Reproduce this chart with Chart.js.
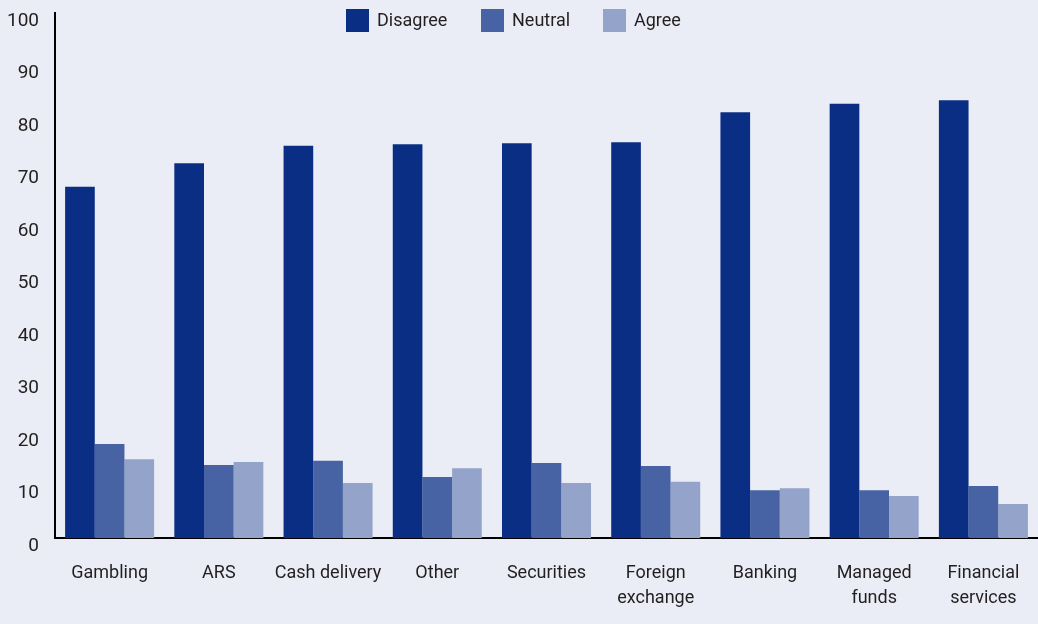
<!DOCTYPE html>
<html>
<head>
<meta charset="utf-8">
<title>Disagree / Neutral / Agree</title>
<script src="https://cdn.jsdelivr.net/npm/chart.js@4.4.0/dist/chart.umd.min.js"></script>
<style>
  body { margin: 0; background: #eaedf5; }
  #cont { width: 1038px; height: 624px; }
</style>
</head>
<body>
<div id="cont">
  <canvas id="barras_sectores" width="1038" height="624"></canvas>
</div>
<script>
var sectores = [
  "Gambling", "ARS", "Cash delivery", "Other", "Securities",
  ["Foreign", "exchange"], "Banking", ["Managed", "funds"], ["Financial", "services"]
];
var disagree = [66.9, 71.4, 74.7, 75.0, 75.2, 75.4, 81.1, 82.7, 83.4];
var neutral = [17.9, 13.9, 14.7, 11.6, 14.3, 13.7, 9.1, 9.1, 9.9];
var agree = [15.0, 14.5, 10.5, 13.3, 10.5, 10.7, 9.5, 8.0, 6.5];
var ticksY = [0, 10, 20, 30, 40, 50, 60, 70, 80, 90, 100];

var fuente = "Roboto, 'Liberation Sans', sans-serif";
var colorTexto = "#231f20";

// legend drawn by hand so it can sit over the top of the plot
var posLeyenda = [346, 481, 603];
var leyenda = {
  id: "leyenda",
  afterDraw: function (chart) {
    var ctx = chart.ctx;
    var y = 9;
    var caja = 23;
    ctx.save();
    ctx.font = "18px " + fuente;
    ctx.textBaseline = "middle";
    ctx.textAlign = "left";
    chart.data.datasets.forEach(function (ds, i) {
      var x = posLeyenda[i];
      ctx.fillStyle = ds.backgroundColor;
      ctx.fillRect(x, y, caja, caja);
      ctx.fillStyle = colorTexto;
      ctx.fillText(ds.label, x + caja + 8, y + caja / 2 + 1);
    });
    ctx.restore();
  }
};

var ctx = document.getElementById("barras_sectores").getContext("2d");
var myChart = new Chart(ctx, {
  type: "bar",
  data: {
    labels: sectores,
    datasets: [
      { label: "Disagree", data: disagree, backgroundColor: "#0b2e85" },
      { label: "Neutral", data: neutral, backgroundColor: "#4763a3" },
      { label: "Agree", data: agree, backgroundColor: "#93a3ca" }
    ]
  },
  options: {
    responsive: false,
    animation: false,
    layout: { padding: { top: 13, right: 0, left: 0, bottom: 0 } },
    datasets: {
      bar: { categoryPercentage: 0.815, barPercentage: 1.0, borderWidth: 0 }
    },
    plugins: {
      legend: { display: false },
      tooltip: { enabled: false }
    },
    scales: {
      x: {
        grid: { display: false, drawTicks: false },
        border: { display: true, color: "#000", width: 2 },
        ticks: {
          color: colorTexto,
          font: { family: fuente, size: 18, lineHeight: 1.39 },
          padding: 23,
          maxRotation: 0,
          autoSkip: false
        },
        afterFit: function (scale) {
          scale.height = 624 - 13 - 525;
          scale.paddingLeft = 0;
          scale.paddingRight = 0;
        }
      },
      y: {
        min: 0,
        max: 100,
        afterBuildTicks: function (scale) {
          scale.ticks = ticksY.map(function (v) { return { value: v }; });
        },
        grid: { display: false, drawTicks: false },
        border: { display: true, color: "#000", width: 2 },
        ticks: {
          color: colorTexto,
          font: { family: fuente, size: 19 },
          padding: 16,
          labelOffset: 8
        },
        afterFit: function (scale) {
          scale.width = 55;
          scale.paddingTop = 0;
          scale.paddingBottom = 0;
        }
      }
    }
  },
  plugins: [leyenda]
});
</script>
</body>
</html>
